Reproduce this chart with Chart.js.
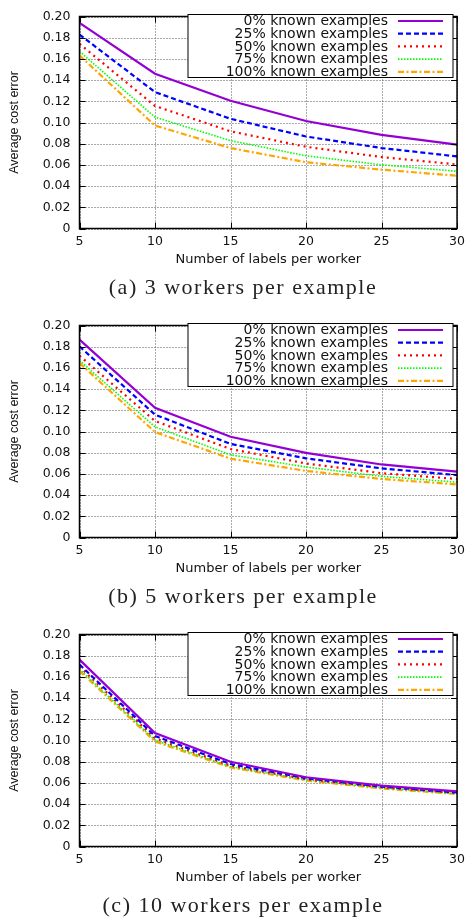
<!DOCTYPE html>
<html>
<head>
<meta charset="utf-8">
<script src="https://cdn.jsdelivr.net/npm/chart.js@4.4.1/dist/chart.umd.min.js"></script>
<style>
  html,body{margin:0;padding:0;background:#fff}
  #page{position:relative;width:471px;height:921px;overflow:hidden;background:#fff}
  .panel{position:absolute;left:0;width:471px;height:309px}
  .panel canvas{position:absolute;left:0;top:0}
  .cap{position:absolute;left:0;width:486px;top:274px;text-align:center;
       font-family:"Liberation Serif",serif;font-size:22px;letter-spacing:1.5px;
       color:#222;line-height:26px;white-space:nowrap}
</style>
</head>
<body>
<div id="page">
  <div class="panel" style="top:0"><canvas id="chartA" width="471" height="275"></canvas><div class="cap">(a) 3 workers per example</div></div>
  <div class="panel" style="top:309px"><canvas id="chartB" width="471" height="275"></canvas><div class="cap">(b) 5 workers per example</div></div>
  <div class="panel" style="top:618px"><canvas id="chartC" width="471" height="275"></canvas><div class="cap">(c) 10 workers per example</div></div>
</div>
<script>
// x categories
const labelsPerWorker = [5, 10, 15, 20, 25, 30];
const seriesNames = ["0% known examples", "25% known examples", "50% known examples", "75% known examples", "100% known examples"];
const yMin = 0, yMax = 0.2, yStep = 0.02;

// (a) 3 workers per example
const a0   = [0.194, 0.146, 0.1205, 0.1014, 0.0883, 0.0792];
const a25  = [0.183, 0.1287, 0.1035, 0.0868, 0.0759, 0.068];
const a50  = [0.1742, 0.1156, 0.0917, 0.0771, 0.0674, 0.0604];
const a75  = [0.167, 0.105, 0.0829, 0.0686, 0.0601, 0.054];
const a100 = [0.1633, 0.0971, 0.0759, 0.0625, 0.0555, 0.0498];

// (b) 5 workers per example
const b0   = [0.1867, 0.1223, 0.095, 0.0798, 0.0689, 0.0622];
const b25  = [0.1803, 0.1159, 0.0883, 0.0747, 0.0652, 0.0589];
const b50  = [0.1715, 0.1099, 0.0835, 0.0698, 0.0607, 0.0552];
const b75  = [0.167, 0.1044, 0.078, 0.0665, 0.0577, 0.0522];
const b100 = [0.1645, 0.0995, 0.0744, 0.0628, 0.0552, 0.0501];

// (c) 10 workers per example
const c0   = [0.1763, 0.107, 0.0799, 0.0653, 0.0574, 0.052];
const c25  = [0.1717, 0.1043, 0.0778, 0.0644, 0.0565, 0.051];
const c50  = [0.1696, 0.1021, 0.0763, 0.0635, 0.0559, 0.0505];
const c75  = [0.1672, 0.1003, 0.0754, 0.0629, 0.0553, 0.0498];
const c100 = [0.1657, 0.0991, 0.0745, 0.0623, 0.0547, 0.0495];

const lineStyles = [
  {color: "#9400d3", dash: [], width: 2.2},
  {color: "#0000ff", dash: [5, 3], width: 2.2},
  {color: "#ff0000", dash: [2, 4], width: 2.2},
  {color: "#00ff00", dash: [1.5, 1.5], width: 1.6},
  {color: "#ffa500", dash: [6, 2.5, 2, 2.5], width: 2.2}
];

const tickFont = {family: "DejaVu Sans", size: 12.5};
const textColor = "#111";

// dotted grid, drawn by hand so it sits under the data but is clearly visible
const gridPlugin = {
  id: "dotgrid",
  beforeDatasetsDraw(chart){
    const {ctx, chartArea: a, scales} = chart;
    ctx.save();
    ctx.strokeStyle = "#555";
    ctx.lineWidth = 1;
    ctx.setLineDash([1, 2]);
    ctx.beginPath();
    scales.x.ticks.forEach((t, i) => {
      const px = Math.round(scales.x.getPixelForTick(i)) + 0.5;
      ctx.moveTo(px, a.top); ctx.lineTo(px, a.bottom);
    });
    scales.y.ticks.forEach((t, i) => {
      const py = Math.round(scales.y.getPixelForTick(i)) + 0.5;
      ctx.moveTo(a.left, py); ctx.lineTo(a.right, py);
    });
    ctx.stroke();
    ctx.restore();
  }
};

// plot frame + inward tick marks (gnuplot style)
const framePlugin = {
  id: "frame",
  afterDatasetsDraw(chart){
    const {ctx, chartArea: a, scales} = chart;
    ctx.save();
    ctx.strokeStyle = "#000";
    ctx.lineWidth = 1;
    ctx.beginPath();
    scales.x.ticks.forEach((t, i) => {
      const px = Math.round(scales.x.getPixelForTick(i)) + 0.5;
      ctx.moveTo(px, a.bottom); ctx.lineTo(px, a.bottom - 6);
      ctx.moveTo(px, a.top); ctx.lineTo(px, a.top + 6);
    });
    scales.y.ticks.forEach((t, i) => {
      const py = Math.round(scales.y.getPixelForTick(i)) + 0.5;
      ctx.moveTo(a.left, py); ctx.lineTo(a.left + 6, py);
      ctx.moveTo(a.right, py); ctx.lineTo(a.right - 6, py);
    });
    ctx.stroke();
    ctx.lineWidth = 1.5;
    ctx.strokeRect(a.left, a.top, a.right - a.left, a.bottom - a.top);
    ctx.restore();
  }
};

// boxed key in the top right, text right aligned, sample line on the right
const keyPlugin = {
  id: "key",
  afterDraw(chart){
    const ctx = chart.ctx;
    const box = {left: 188, top: 14.5, right: 453, bottom: 77.5};
    const textRight = 388, sampleL = 398, sampleR = 443, row0 = 21, rowGap = 12.7;
    ctx.save();
    ctx.fillStyle = "#fff";
    ctx.fillRect(box.left, box.top, box.right - box.left, box.bottom - box.top);
    ctx.strokeStyle = "#000";
    ctx.lineWidth = 1;
    ctx.strokeRect(box.left, box.top, box.right - box.left, box.bottom - box.top);
    ctx.font = '14px "DejaVu Sans"';
    ctx.textAlign = "right";
    ctx.textBaseline = "middle";
    chart.data.datasets.forEach((ds, i) => {
      const y = row0 + i * rowGap;
      ctx.fillStyle = textColor;
      ctx.fillText(ds.label, textRight, y + 0.5);
      ctx.beginPath();
      ctx.setLineDash(ds.borderDash || []);
      ctx.strokeStyle = ds.borderColor;
      ctx.lineWidth = ds.borderWidth;
      ctx.moveTo(sampleL, y);
      ctx.lineTo(sampleR, y);
      ctx.stroke();
    });
    ctx.restore();
  }
};

function makeChart(id, series){
  const datasets = series.map((vals, i) => ({
    label: seriesNames[i],
    data: vals,
    borderColor: lineStyles[i].color,
    borderDash: lineStyles[i].dash,
    borderWidth: lineStyles[i].width,
    borderCapStyle: "butt",
    fill: false,
    pointRadius: 0,
    tension: 0
  }));
  return new Chart(document.getElementById(id), {
    type: "line",
    data: {labels: labelsPerWorker, datasets},
    options: {
      responsive: false,
      animation: false,
      layout: {padding: {top: 9, right: 8, left: 0, bottom: 0}},
      plugins: {legend: {display: false}, tooltip: {enabled: false}},
      scales: {
        x: {
          type: "category",
          offset: false,
          grid: {display: false, drawTicks: false},
          border: {display: false},
          ticks: {color: textColor, font: tickFont, padding: 6, maxRotation: 0, autoSkip: false},
          title: {display: true, text: "Number of labels per worker", color: textColor,
                  font: {family: "DejaVu Sans", size: 13}, padding: {top: 0, bottom: 8}},
          afterFit: s => { s.height = 46.5; }
        },
        y: {
          min: yMin, max: yMax,
          grid: {display: false, drawTicks: false},
          border: {display: false},
          ticks: {stepSize: yStep, color: textColor, font: tickFont, padding: 9,
                  callback: v => Math.abs(v) < 1e-9 ? "0" : v.toFixed(2)},
          title: {display: true, text: "Average cost error", color: textColor,
                  font: {family: "Liberation Sans", size: 12.5}, padding: {top: 7, bottom: 0}},
          afterFit: s => { s.width = 79.5; }
        }
      }
    },
    plugins: [gridPlugin, framePlugin, keyPlugin]
  });
}

makeChart("chartA", [a0, a25, a50, a75, a100]);
makeChart("chartB", [b0, b25, b50, b75, b100]);
makeChart("chartC", [c0, c25, c50, c75, c100]);
</script>
</body>
</html>
